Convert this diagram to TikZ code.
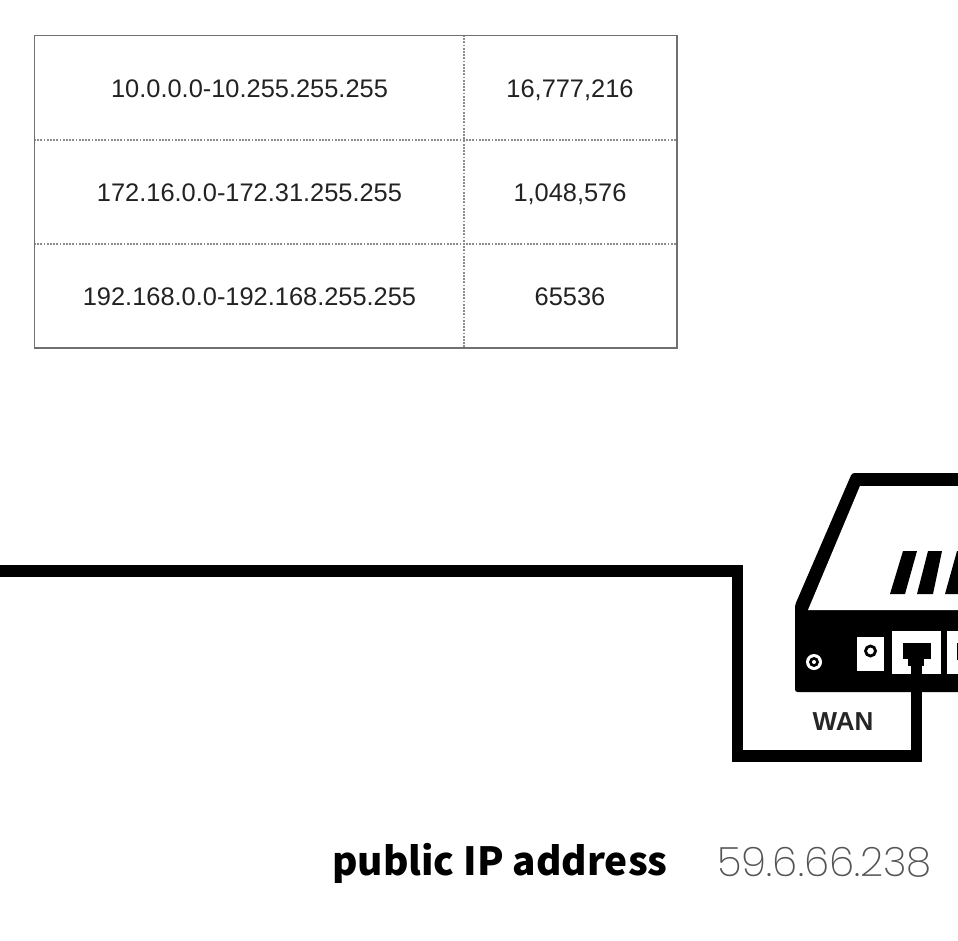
\documentclass[tikz,border=0pt]{standalone}
\usepackage{fontspec}
\setmainfont{Liberation Sans}
\newfontfamily\labelfont{Noto Sans CJK JP}
\newfontfamily\thinfont{Poppins ExtraLight}
\usetikzlibrary{calc}
\definecolor{ink}{HTML}{000000}
\definecolor{tabletext}{HTML}{222222}
\definecolor{rulegray}{HTML}{707070}
\definecolor{dotgray}{HTML}{8C8C8C}
\definecolor{ipgray}{HTML}{555555}
\tikzset{
  cell/.style={inner sep=0pt,text=tabletext,font=\fontsize{25.4}{28}\selectfont,anchor=base},
  frame/.style={draw=rulegray,line width=1.1pt},
  grid/.style={draw=dotgray,line width=2pt,dash pattern=on 1.7pt off 1.5pt},
  cable/.style={draw=ink,line width=11.5pt,miter limit=10},
  hole/.style={fill=white,draw=none},
  solid/.style={fill=ink,draw=none}
}
\begin{document}
\begin{tikzpicture}[x=1pt,y=-1pt]
\useasboundingbox (0,0) rectangle (958,940);
\fill[white] (0,0) rectangle (958,940);
% table
\draw[grid] (464,35) -- (464,348);
\draw[grid] (34,139.5) -- (677,139.5);
\draw[grid] (34,243.5) -- (677,243.5);
\draw[frame] (34.5,35.5) rectangle (677,348);
\node[cell] (r1a) at (249.5,97.3) {10.0.0.0-10.255.255.255};
\node[cell] (r1b) at (570,97.3) {16,777,216};
\node[cell] (r2a) at (249.5,201.3) {172.16.0.0-172.31.255.255};
\node[cell] (r2b) at (570,201.3) {1,048,576};
\node[cell] (r3a) at (249.5,305.3) {192.168.0.0-192.168.255.255};
\node[cell] (r3b) at (570,305.3) {65536};
% router body
\fill[ink,rounded corners=2.5pt]
  (795,692) -- (795,605) -- (852,473) -- (970,473) -- (970,692) -- cycle;
\fill[white] (860,486) -- (808,610) -- (970,610) -- (970,486) -- cycle;
% vents
\fill[ink] (890,594) -- (905,594) -- (917,551) -- (903,551) -- cycle;
\fill[ink] (917,594) -- (933,594) -- (942,551) -- (928,551) -- cycle;
\fill[ink] (945,594) -- (960,594) -- (970,551) -- (957,551) -- cycle;
% power socket
\fill[hole] (857,637) rectangle (884,671);
\draw[ink,line width=2.8pt] (870.5,651) circle (5pt);
% reset
\fill[white] (814,662) circle (8pt);
\fill[ink] (814,662) circle (5pt);
\fill[white] (814,662) circle (2pt);
% ports
\fill[hole] (892,631) rectangle (941,674);
\fill[hole] (947,631) rectangle (970,674);
\fill[ink] (957,643) rectangle (970,660);
% plug
\node[solid,minimum width=28pt,minimum height=16pt,inner sep=0pt] (plug) at (917,651) {};
\fill[ink] (908,659) rectangle (924,666);
% cable
\coordinate (free) at (-5,571);
\coordinate (bendA) at (737.5,571);
\coordinate (bendB) at (737.5,756);
\coordinate (bendC) at (916.5,756);
\draw[cable] (free) -- (bendA) -- (bendB) -- (bendC) -- (plug.south -| bendC);
% labels
\node[inner sep=0pt,text=black!85,font=\bfseries\fontsize{26}{30}\selectfont] (wan) at (843,722) {WAN};
\node[inner sep=0pt,anchor=base west,text=black,font=\labelfont\bfseries\fontsize{38.8}{44}\selectfont] (pub) at (332,875) {public IP address};
\node[inner sep=0pt,anchor=base west,text=ipgray,font=\thinfont\fontsize{40.5}{44}\selectfont] (ip) at (717,876) {59.6.66.238};
\end{tikzpicture}
\end{document}
